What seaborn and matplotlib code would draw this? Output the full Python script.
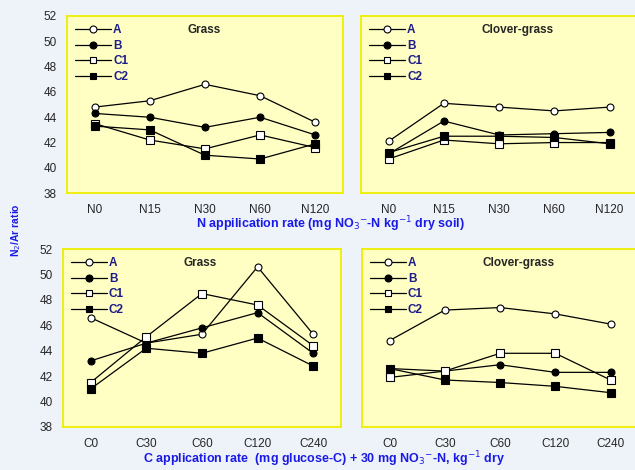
import numpy as np
import pandas as pd
import matplotlib
matplotlib.use("Agg")
import matplotlib.pyplot as plt
import seaborn as sns
from matplotlib.lines import Line2D

sns.set_style("white")
plt.rcParams["font.family"] = ["Liberation Sans", "DejaVu Sans"]

# data
series = ["A", "B", "C1", "C2"]
n_rates = ["N0", "N15", "N30", "N60", "N120"]
c_rates = ["C0", "C30", "C60", "C120", "C240"]

grass_n = {
    "A": [44.8, 45.3, 46.6, 45.7, 43.6],
    "B": [44.3, 44.0, 43.2, 44.0, 42.6],
    "C1": [43.5, 42.2, 41.5, 42.6, 41.6],
    "C2": [43.3, 43.0, 41.0, 40.7, 41.9],
}
clover_n = {
    "A": [42.1, 45.1, 44.8, 44.5, 44.8],
    "B": [41.1, 43.7, 42.6, 42.7, 42.8],
    "C1": [40.7, 42.2, 41.9, 42.0, 42.0],
    "C2": [41.2, 42.5, 42.5, 42.4, 41.9],
}
grass_c = {
    "A": [46.6, 44.6, 45.3, 50.6, 45.3],
    "B": [43.2, 44.6, 45.8, 47.0, 43.8],
    "C1": [41.5, 45.1, 48.5, 47.6, 44.4],
    "C2": [41.0, 44.2, 43.8, 45.0, 42.8],
}
clover_c = {
    "A": [44.8, 47.2, 47.4, 46.9, 46.1],
    "B": [42.6, 42.4, 42.9, 42.3, 42.3],
    "C1": [41.9, 42.4, 43.8, 43.8, 41.7],
    "C2": [42.6, 41.7, 41.5, 41.2, 40.7],
}

marker_style = {"A": ("o", "white"), "B": ("o", "black"),
                "C1": ("s", "white"), "C2": ("s", "black")}

bg = "#eef3fa"
panel_bg = "#ffffc4"
edge = "#eeee00"
navy = "#1c1c8a"
blue = "#1a1ae6"

fig = plt.figure(figsize=(6.35, 4.7), dpi=100, facecolor=bg)

boxes = [
    [0.1055, 0.589, 0.4345, 0.377],
    [0.5685, 0.589, 0.435, 0.377],
    [0.099, 0.0915, 0.438, 0.3785],
    [0.570, 0.0915, 0.435, 0.3785],
]
panels = [
    (grass_n, n_rates, "Grass", True),
    (clover_n, n_rates, "Clover-grass", False),
    (grass_c, c_rates, "Grass", True),
    (clover_c, c_rates, "Clover-grass", False),
]

for box, (data, cats, title, show_y) in zip(boxes, panels):
    ax = fig.add_axes(box)
    ax.set_facecolor(panel_bg)
    df = pd.DataFrame(data, index=cats).reset_index(names="rate")
    long = df.melt(id_vars="rate", var_name="series", value_name="ratio")
    long["pos"] = long["rate"].map({c: i for i, c in enumerate(cats)})
    for s in series:
        m, fc = marker_style[s]
        sub = long[long["series"] == s]
        sns.lineplot(data=sub, x="pos", y="ratio", ax=ax, color="black",
                     linewidth=0.9, marker=m, markersize=5 if m == "o" else 5.5,
                     markerfacecolor=fc, markeredgecolor="black",
                     markeredgewidth=0.8, legend=False)
    ax.set_xlim(-0.5, 4.5)
    ax.set_ylim(38, 52)
    ax.set_yticks(np.arange(38, 53, 2))
    ax.set_xticks(range(5))
    ax.set_xticklabels(cats, fontsize=8.5)
    ax.set_xticks(np.arange(-0.5, 5, 1), minor=True)
    ax.tick_params(axis="x", which="major", length=0, pad=8)
    ax.tick_params(axis="x", which="minor", length=4, color=edge, width=1.2,
                   direction="out")
    ax.tick_params(axis="y", length=4, color=edge, width=1.2, direction="out",
                   labelsize=8.5)
    if not show_y:
        ax.set_yticklabels([])
    ax.set_xlabel("")
    ax.set_ylabel("")
    for sp in ax.spines.values():
        sp.set_color(edge)
        sp.set_linewidth(1.3)
    ax.text(0.435, 0.92, title, transform=ax.transAxes, fontsize=8.5,
            fontweight="bold", ha="left", va="center")
    handles = []
    for s in series:
        m, fc = marker_style[s]
        handles.append(Line2D([], [], color="black", linewidth=0.9, marker=m,
                              markersize=5, markerfacecolor=fc,
                              markeredgecolor="black", markeredgewidth=0.8))
    leg = ax.legend(handles, series, loc="upper left", frameon=False,
                    fontsize=8.5, handlelength=3.0, handletextpad=0.2,
                    labelspacing=0.3, borderaxespad=0.3,
                    bbox_to_anchor=(0.0, 1.0))
    for t in leg.get_texts():
        t.set_color(navy)
        t.set_fontweight("bold")

fig.text(0.52, 0.522,
         "N appilication rate (mg NO$_3$$^{-}$-N kg$^{-1}$ dry soil)",
         color=blue, fontsize=9, fontweight="bold", ha="center", va="center")
fig.text(0.51, 0.022,
         "C application rate  (mg glucose-C) + 30 mg NO$_3$$^{-}$-N, kg$^{-1}$ dry",
         color=blue, fontsize=9, fontweight="bold", ha="center", va="center")
fig.text(0.025, 0.51, "N$_2$/Ar ratio", color=blue, fontsize=7.5,
         fontweight="bold", rotation=90, ha="center", va="center")

fig.savefig("out.png", dpi=100, facecolor=bg)
